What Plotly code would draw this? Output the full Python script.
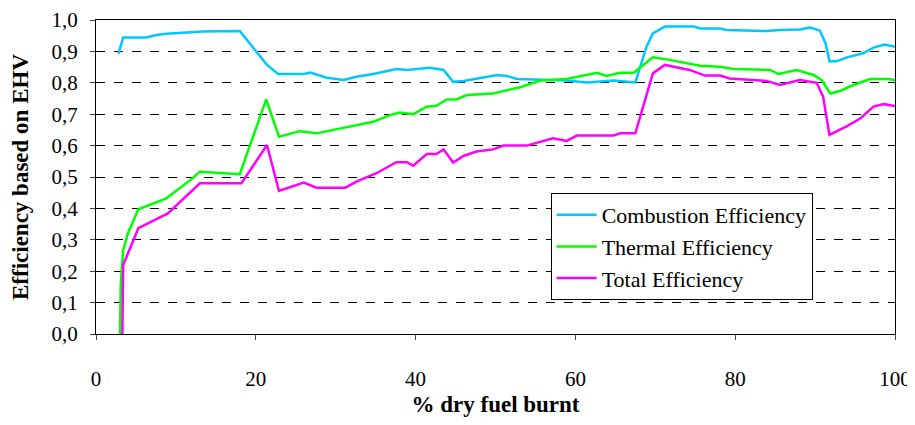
import plotly.graph_objects as go

# Combustion efficiency
comb_x = [2.8, 3.4, 6.3, 7.6, 8.8, 11.4, 13.4, 18.0, 20.1, 21.4, 22.8, 26.0, 26.8, 28.9, 31.0,
          32.6, 34.7, 37.6, 38.9, 40.6, 41.8, 43.5, 44.7, 46.0, 47.6, 50.2, 51.4, 52.7, 58.9,
          61.4, 64.8, 67.5, 68.9, 69.7, 71.2, 74.8, 75.6, 78.1, 78.9, 83.9, 85.6, 88.1, 89.4,
          90.6, 91.3, 91.8, 92.7, 94.0, 96.0, 97.3, 98.7, 100.0]
comb_y = [0.892, 0.944, 0.944, 0.952, 0.956, 0.960, 0.963, 0.965, 0.899, 0.857, 0.828, 0.828,
          0.833, 0.816, 0.809, 0.819, 0.828, 0.844, 0.841, 0.844, 0.848, 0.841, 0.803, 0.806,
          0.814, 0.825, 0.822, 0.812, 0.807, 0.801, 0.807, 0.801, 0.915, 0.957, 0.979, 0.979,
          0.973, 0.973, 0.968, 0.965, 0.968, 0.970, 0.976, 0.966, 0.926, 0.869, 0.869, 0.881,
          0.894, 0.912, 0.922, 0.915]

# Thermal efficiency
therm_x = [3.0, 3.1, 3.4, 4.0, 5.3, 8.8, 11.8, 13.0, 18.0, 21.3, 22.9, 25.5, 27.6, 31.4, 34.7,
           36.8, 38.0, 39.7, 41.4, 42.6, 43.9, 45.1, 46.4, 49.7, 53.1, 55.6, 58.9, 62.7, 63.9,
           65.6, 67.3, 69.7, 71.8, 75.6, 78.1, 79.8, 84.4, 85.4, 87.7, 89.8, 90.8, 91.9, 93.1,
           94.8, 96.9, 99.0, 100.0]
therm_y = [0.0, 0.161, 0.268, 0.321, 0.397, 0.432, 0.490, 0.517, 0.509, 0.747, 0.628, 0.646,
           0.639, 0.660, 0.676, 0.697, 0.705, 0.700, 0.724, 0.727, 0.747, 0.747, 0.761, 0.766,
           0.786, 0.807, 0.812, 0.832, 0.822, 0.832, 0.832, 0.881, 0.873, 0.854, 0.851, 0.844,
           0.841, 0.828, 0.841, 0.825, 0.809, 0.766, 0.774, 0.793, 0.812, 0.812, 0.809]

# Total efficiency
total_x = [3.3, 3.4, 5.3, 9.0, 13.0, 18.2, 21.4, 22.9, 26.0, 27.6, 31.2, 32.6, 35.1, 37.6, 38.9,
           39.7, 41.4, 42.6, 43.5, 44.7, 46.0, 47.6, 49.7, 51.0, 53.9, 55.2, 57.2, 58.9, 60.2,
           64.8, 65.6, 67.5, 69.7, 71.2, 74.3, 76.2, 78.1, 79.3, 83.9, 85.6, 88.1, 90.2, 91.0,
           91.8, 94.0, 95.7, 97.3, 98.6, 100.0]
total_y = [0.0, 0.220, 0.337, 0.384, 0.480, 0.480, 0.602, 0.456, 0.482, 0.466, 0.466, 0.485,
           0.512, 0.547, 0.547, 0.536, 0.573, 0.573, 0.588, 0.546, 0.567, 0.581, 0.588, 0.600,
           0.600, 0.609, 0.623, 0.615, 0.632, 0.632, 0.639, 0.639, 0.830, 0.857, 0.841, 0.823,
           0.823, 0.814, 0.806, 0.793, 0.809, 0.800, 0.756, 0.634, 0.662, 0.687, 0.724, 0.732,
           0.726]

x_ticks = [0, 20, 40, 60, 80, 100]

fig = go.Figure()
fig.add_trace(go.Scatter(x=comb_x, y=comb_y, mode="lines", name="Combustion Efficiency",
                         line=dict(color="#00c8ff", width=2.5)))
fig.add_trace(go.Scatter(x=therm_x, y=therm_y, mode="lines", name="Thermal Efficiency",
                         line=dict(color="#00ff00", width=2.5)))
fig.add_trace(go.Scatter(x=total_x, y=total_y, mode="lines", name="Total Efficiency",
                         line=dict(color="#ff00ff", width=2.5)))

font = '"Liberation Serif"'
fig.update_layout(
    width=905, height=409,
    margin=dict(l=88, r=18, t=12, b=83, autoexpand=False),
    paper_bgcolor="white", plot_bgcolor="white",
    separators=", ",
    font=dict(family=font, size=20, color="black"),
    showlegend=True,
    legend=dict(x=0.569, y=0.449, xanchor="left", yanchor="top",
                bordercolor="black", borderwidth=1, bgcolor="white",
                font=dict(family=font, size=22, color="black"), tracegroupgap=0,
                itemwidth=40),
    xaxis=dict(range=[0, 100], tickvals=x_ticks, ticks="outside", ticklen=5,
               showline=True, linecolor="black", linewidth=1, mirror=True,
               showgrid=False, zeroline=False, automargin=False,
               ticklabelstandoff=21, ticklabeloverflow="allow",
               title=dict(text="<b>% dry fuel burnt</b>",
                          font=dict(family=font, size=23, color="black"), standoff=28),
               tickfont=dict(family=font, size=21, color="black")),
    yaxis=dict(range=[0, 1.0], dtick=0.1, tickformat=".1f", ticks="outside", ticklen=5,
               showline=True, linecolor="black", linewidth=1, mirror=True,
               showgrid=True, gridcolor="black", griddash="dash", gridwidth=1,
               zeroline=False, automargin=False, ticklabelstandoff=8,
               title=dict(text="<b>Efficiency based on EHV</b>",
                          font=dict(family=font, size=23, color="black"), standoff=16),
               tickfont=dict(family=font, size=21, color="black")),
)

fig.write_html("out.html")
